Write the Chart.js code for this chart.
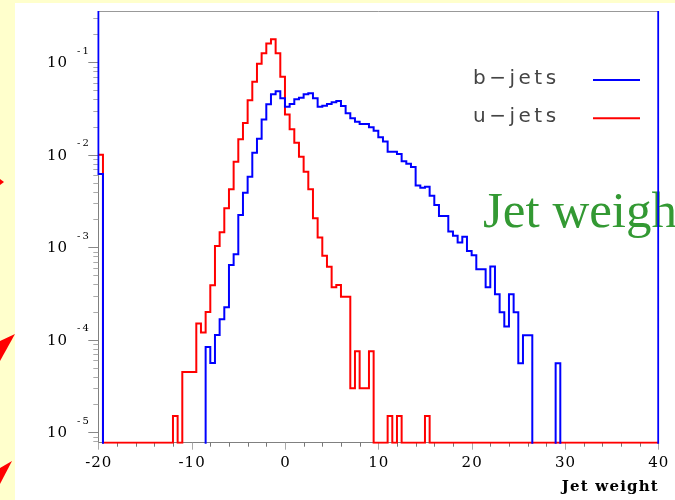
<!DOCTYPE html>
<html>
<head>
<meta charset="utf-8">
<title>Jet weight</title>
<script src="https://cdn.jsdelivr.net/npm/chart.js@4.4.1/dist/chart.umd.min.js"></script>
<style>
    html, body { margin: 0; padding: 0; background: #ffffcc; overflow: hidden; }
    canvas { display: block; }
</style>
</head>
<body>
<canvas id="jetChart" width="675" height="500"></canvas>
<script>
// ---- histogram data: 120 bins of 0.5 from -20 to 40 ----
const xMin = -20;
const xMax = 40;
const binWidth = 0.5;
const xMinorStep = 2;

const xTickLabels = [-20, -10, 0, 10, 20, 30, 40];
const yTickExponents = [-1, -2, -3, -4, -5];

// y range of the frame (log axis)
const yMin = 7.72e-6;
const yMax = 0.3585;

const seriesLabels = ["b\u2212jets", "u\u2212jets"];
const seriesColors = ["#0000ff", "#ff0000"];

// b-jets, fraction per bin (rows of 10 bins = 5 units)
const bJets = [
    6.2e-3, 0, 0, 0, 0, 0, 0, 0, 0, 0,
    0, 0, 0, 0, 0, 0, 0, 0, 0, 0,
    0, 0, 0, 8.35e-5, 5.6e-5, 1.13e-4, 1.67e-4, 2.25e-4, 6.43e-4, 8.39e-4,
    2.23e-3, 3.89e-3, 5.79e-3, 1.05e-2, 1.49e-2, 2.41e-2, 3.51e-2, 4.51e-2, 4.86e-2, 4.08e-2,
    3.31e-2, 3.54e-2, 3.98e-2, 4.14e-2, 4.51e-2, 4.63e-2, 4.08e-2, 3.31e-2, 3.40e-2, 3.54e-2,
    3.70e-2, 3.82e-2, 3.37e-2, 2.81e-2, 2.48e-2, 2.28e-2, 2.15e-2, 2.15e-2, 1.98e-2, 1.82e-2,
    1.55e-2, 1.39e-2, 1.08e-2, 1.08e-2, 1.02e-2, 8.5e-3, 8.0e-3, 7.4e-3, 4.66e-3, 4.41e-3,
    4.52e-3, 3.61e-3, 2.87e-3, 2.18e-3, 2.18e-3, 1.48e-3, 1.33e-3, 1.13e-3, 1.30e-3, 9.1e-4,
    8.2e-4, 5.8e-4, 5.8e-4, 3.7e-4, 6.2e-4, 3.1e-4, 1.98e-4, 1.39e-4, 3.1e-4, 1.98e-4,
    5.57e-5, 1.12e-4, 1.12e-4, 0, 0, 0, 0, 0, 5.57e-5, 0,
    0, 0, 0, 0, 0, 0, 0, 0, 0, 0,
    0, 0, 0, 0, 0, 0, 0, 0, 0, 0
];
// under/overflow of b-jets are off scale (drawn up to the frame top)
const bUnderflow = 1;
const bOverflow = 1;

// u-jets, fraction per bin
const uJets = [
    1.0e-2, 0, 0, 0, 0, 0, 0, 0, 0, 0,
    0, 0, 0, 0, 0, 0, 1.5e-5, 0, 4.5e-5, 4.5e-5,
    4.5e-5, 1.5e-4, 1.2e-4, 2.0e-4, 3.9e-4, 1.03e-3, 1.45e-3, 2.64e-3, 4.24e-3, 8.4e-3,
    1.47e-2, 2.21e-2, 3.88e-2, 6.16e-2, 9.66e-2, 0.125, 0.160, 0.177, 0.125, 6.98e-2,
    2.72e-2, 1.89e-2, 1.35e-2, 9.55e-3, 6.56e-3, 4.24e-3, 2.06e-3, 1.28e-3, 8.1e-4, 6.17e-4,
    3.70e-4, 3.91e-4, 2.92e-4, 2.92e-4, 3.0e-5, 7.5e-5, 3.0e-5, 3.0e-5, 7.5e-5, 0,
    0, 0, 1.5e-5, 0, 1.5e-5, 0, 0, 0, 0, 0,
    1.5e-5, 0, 0, 0, 0, 0, 0, 0, 0, 0,
    0, 0, 0, 0, 0, 0, 0, 0, 0, 0,
    0, 0, 0, 0, 0, 0, 0, 0, 0, 0,
    0, 0, 0, 0, 0, 0, 0, 0, 0, 0,
    0, 0, 0, 0, 0, 0, 0, 0, 0, 0
];

// ---- step outline of a histogram ----
// empty bins of u-jets sit on the bottom of the frame, empty b-jets bins fall out of it
function histogramSteps(values, zeroLevel, underflow, overflow) {
    const points = [];
    if (underflow !== null) {
        points.push({ x: xMin, y: underflow });
    }
    values.forEach(function (v, i) {
        points.push({ x: xMin + i * binWidth, y: v > 0 ? v : zeroLevel });
    });
    const last = values[values.length - 1];
    points.push({ x: xMax, y: last > 0 ? last : zeroLevel });
    if (overflow !== null) {
        points.push({ x: xMax, y: overflow });
    }
    return points;
}

// ---- page pieces drawn around the plot ----
const slideBackground = {
    id: "slideBackground",
    beforeDraw(chart) {
        const ctx = chart.ctx;
        ctx.save();
        ctx.fillStyle = "#ffffcc";
        ctx.fillRect(0, 0, chart.width, chart.height);
        ctx.fillStyle = "#ffffff";
        ctx.fillRect(15, 3, chart.width - 15, chart.height - 3);

        // arrow heads sticking out in the left margin
        ctx.fillStyle = "#ff0000";
        const heads = [
            [[0, 179], [4, 182], [0, 185]],
            [[0, 341], [15, 334], [0, 361]],
            [[0, 468], [12, 461], [0, 484]]
        ];
        heads.forEach(function (tri) {
            ctx.beginPath();
            ctx.moveTo(tri[0][0], tri[0][1]);
            ctx.lineTo(tri[1][0], tri[1][1]);
            ctx.lineTo(tri[2][0], tri[2][1]);
            ctx.closePath();
            ctx.fill();
        });
        ctx.restore();
    }
};

const frameAndTicks = {
    id: "frameAndTicks",
    beforeDatasetsDraw(chart) {
        const ctx = chart.ctx;
        const area = chart.chartArea;
        const xs = chart.scales.x;
        const ys = chart.scales.y;
        ctx.save();

        // big green caption behind the histograms
        ctx.fillStyle = "#339933";
        ctx.font = '51px "Liberation Serif"';
        ctx.textBaseline = "alphabetic";
        ctx.fillText("Jet weight", 483, 227);

        // top edge of the frame
        ctx.strokeStyle = "#999999";
        ctx.lineWidth = 1;
        ctx.beginPath();
        ctx.moveTo(area.left, area.top + 0.5);
        ctx.lineTo(area.right, area.top + 0.5);
        ctx.stroke();

        // x tick marks
        for (let v = xMin; v <= xMax; v += xMinorStep) {
            const px = Math.round(xs.getPixelForValue(v)) + 0.5;
            const major = xTickLabels.indexOf(v) >= 0;
            ctx.strokeStyle = major ? "#aaaaaa" : "#777777";
            ctx.beginPath();
            ctx.moveTo(px, area.bottom);
            ctx.lineTo(px, area.bottom + (major ? 7 : 4));
            ctx.stroke();
        }

        // y tick marks, 1..9 per decade
        for (let e = -6; e <= 0; e++) {
            for (let m = 1; m <= 9; m++) {
                const v = m * Math.pow(10, e);
                if (v < yMin || v > yMax) {
                    continue;
                }
                const py = Math.round(ys.getPixelForValue(v)) + 0.5;
                ctx.strokeStyle = m === 1 ? "#888888" : "#aaaaaa";
                ctx.beginPath();
                ctx.moveTo(area.left, py);
                ctx.lineTo(area.left - (m === 1 ? 10 : 5), py);
                ctx.stroke();
            }
        }

        // x tick labels
        ctx.fillStyle = "#000000";
        ctx.font = '15px "DejaVu Serif"';
        ctx.letterSpacing = "1px";
        ctx.textAlign = "center";
        ctx.textBaseline = "middle";
        xTickLabels.forEach(function (v) {
            ctx.fillText(String(v), xs.getPixelForValue(v) + 0.5, 463);
        });

        // y tick labels: 10 with the exponent raised
        ctx.textAlign = "left";
        yTickExponents.forEach(function (e) {
            const py = ys.getPixelForValue(Math.pow(10, e));
            ctx.font = '15px "DejaVu Serif"';
            ctx.letterSpacing = "1px";
            ctx.textBaseline = "middle";
            ctx.fillText("10", 47, py + 1);
            ctx.font = '10px "DejaVu Serif"';
            ctx.letterSpacing = "2px";
            ctx.textBaseline = "alphabetic";
            ctx.fillText(String(e), 77, py - 8.5);
        });

        // axis title
        ctx.font = 'bold 15px "DejaVu Serif"';
        ctx.letterSpacing = "1.2px";
        ctx.textAlign = "right";
        ctx.textBaseline = "alphabetic";
        ctx.fillText("Jet weight", 659, 491);

        ctx.restore();
    }
};

const sideLegend = {
    id: "sideLegend",
    afterDatasetsDraw(chart) {
        const ctx = chart.ctx;
        ctx.save();
        ctx.font = '20px "DejaVu Sans"';
        ctx.letterSpacing = "3.5px";
        ctx.fillStyle = "#444444";
        ctx.textAlign = "left";
        ctx.textBaseline = "alphabetic";
        chart.data.datasets.forEach(function (ds, i) {
            const base = 83.5 + 38.2 * i;
            ctx.fillText(ds.label, 473, base);
            ctx.strokeStyle = ds.borderColor;
            ctx.lineWidth = 2;
            ctx.beginPath();
            ctx.moveTo(593, base - 3.5);
            ctx.lineTo(640, base - 3.5);
            ctx.stroke();
        });
        ctx.restore();
    }
};

// ---- chart ----
window.addEventListener("DOMContentLoaded", function () {
    const ctx = document.getElementById("jetChart").getContext("2d");

    new Chart(ctx, {
        type: "line",
        data: {
            datasets: [
                {
                    label: seriesLabels[0],
                    data: histogramSteps(bJets, yMin / 100, bUnderflow, bOverflow),
                    borderColor: seriesColors[0],
                    borderWidth: 2,
                    pointRadius: 0,
                    fill: false,
                    stepped: "before",
                    clip: { left: 1, right: 1, top: 0, bottom: 1 }
                },
                {
                    label: seriesLabels[1],
                    data: histogramSteps(uJets, yMin, null, null),
                    borderColor: seriesColors[1],
                    borderWidth: 2,
                    pointRadius: 0,
                    fill: false,
                    stepped: "before",
                    clip: { left: 1, right: 1, top: 0, bottom: 1 }
                }
            ]
        },
        options: {
            responsive: false,
            animation: false,
            devicePixelRatio: 1,
            layout: {
                padding: { left: 0, top: 11, right: 16.7, bottom: 0 }
            },
            plugins: {
                legend: { display: false },
                tooltip: { enabled: false }
            },
            scales: {
                x: {
                    type: "linear",
                    min: xMin,
                    max: xMax,
                    ticks: { display: false },
                    grid: { display: false },
                    border: { display: true, color: "#808080", width: 1 },
                    afterFit: function (scale) { scale.height = 57.3; }
                },
                y: {
                    type: "logarithmic",
                    min: yMin,
                    max: yMax,
                    ticks: { display: false },
                    grid: { display: false },
                    border: { display: true, color: "#808080", width: 1 },
                    afterFit: function (scale) { scale.width = 98.3; }
                }
            }
        },
        plugins: [slideBackground, frameAndTicks, sideLegend]
    });
});
</script>
</body>
</html>
